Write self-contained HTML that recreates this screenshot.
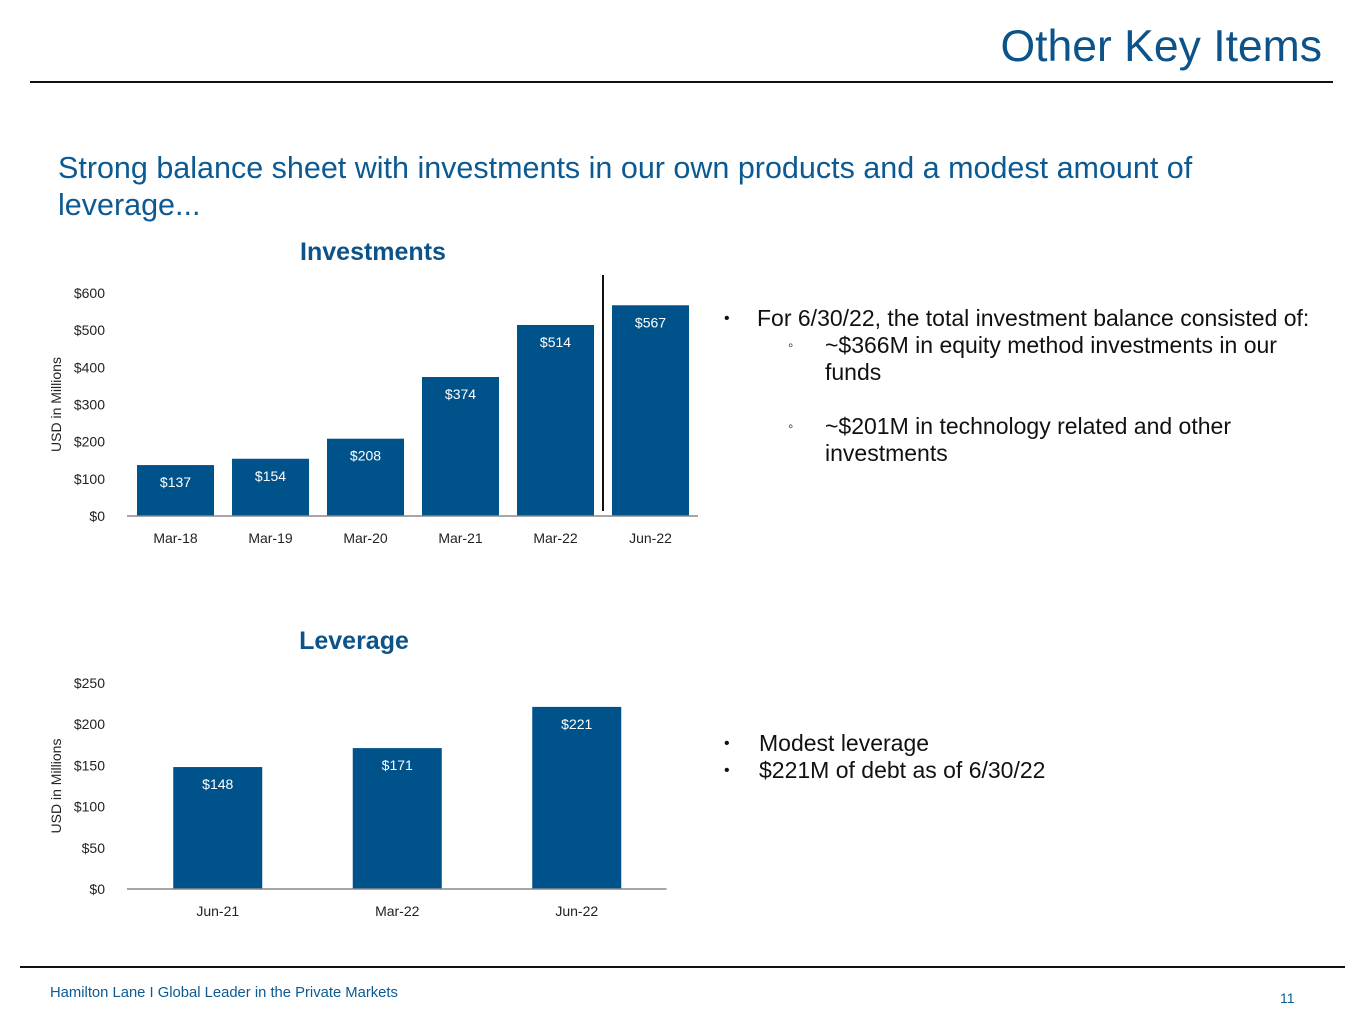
<!DOCTYPE html>
<html><head><meta charset="utf-8"><style>
body{margin:0;width:1365px;height:1024px;background:#fff;font-family:"Liberation Sans",sans-serif;position:relative;overflow:hidden}
.abs{position:absolute}
.title{right:43px;top:22px;font-size:44.5px;color:#0b5388}
.sub{left:58px;top:150px;font-size:30.5px;line-height:37px;color:#0b5a93;width:1250px}
.bul{font-size:23px;color:#111}
svg text{font-family:"Liberation Sans",sans-serif}
</style></head><body>
<div class="abs title">Other Key Items</div>
<div class="abs" style="left:30px;top:81px;width:1303px;height:2px;background:#111"></div>
<div class="abs sub">Strong balance sheet with investments in our own products and a modest amount of<br>leverage...</div>

<svg class="abs" style="left:0;top:0" width="1365" height="1024">
<g id="inv"></g>
<g id="lev"></g>
</svg>

<div class="abs bul" style="left:724px;top:305px;width:620px;line-height:27px">
<div style="position:relative;padding-left:33px"><span style="position:absolute;left:0;font-size:16px">•</span>For 6/30/22, the total investment balance consisted of:</div>
<div style="position:relative;margin-left:101px;width:470px"><span style="position:absolute;left:-37px;font-size:15px">◦</span>~$366M in equity method investments in our funds</div>
<div style="height:27px"></div>
<div style="position:relative;margin-left:101px;width:430px"><span style="position:absolute;left:-37px;font-size:15px">◦</span>~$201M in technology related and other investments</div>
</div>
<div class="abs bul" style="left:724px;top:730px;line-height:27px">
<div style="position:relative;padding-left:35px"><span style="position:absolute;left:0;font-size:16px">•</span>Modest leverage</div>
<div style="position:relative;padding-left:35px"><span style="position:absolute;left:0;font-size:16px">•</span>$221M of debt as of 6/30/22</div>
</div>

<div class="abs" style="left:20px;top:966px;width:1325px;height:2px;background:#111"></div>
<div class="abs" style="left:50px;top:985px;font-size:14.8px;color:#0b5a93">Hamilton Lane I Global Leader in the Private Markets</div>
<div class="abs" style="left:1280px;top:990px;font-size:14px;color:#0b5a93">11</div>

<script>
const invCategories=["Mar-18","Mar-19","Mar-20","Mar-21","Mar-22","Jun-22"];
const invValues=[137,154,208,374,514,567];
const invTicks=[0,100,200,300,400,500,600];
const levCategories=["Jun-21","Mar-22","Jun-22"];
const levValues=[148,171,221];
const levTicks=[0,50,100,150,200,250];
const NS="http://www.w3.org/2000/svg";
function mk(p,t,a,txt){const e=document.createElementNS(NS,t);for(const k in a)e.setAttribute(k,a[k]);if(txt!==undefined)e.textContent=txt;p.appendChild(e);return e;}
function chart(g,cfg,cats,vals,ticks){
  const max=ticks[ticks.length-1];
  const y=v=>cfg.y0-(v/max)*(cfg.y0-cfg.yTop);
  const x=i=>cfg.x0+cfg.step*(i+0.5);
  const t=mk(g,"text",{x:cfg.titleX,y:cfg.titleY,"font-size":25,"font-weight":"bold",fill:"#0b5388","text-anchor":"middle"},cfg.title);
  
  
  ticks.forEach(v=>{const l=mk(g,"text",{x:105,y:y(v)+5,"font-size":14,fill:"#222","text-anchor":"end"},"$"+v);
    
    });
  const at=mk(g,"text",{transform:`translate(61,${(cfg.y0+cfg.yTop)/2}) rotate(-90)`,"font-size":14,fill:"#222","text-anchor":"middle"},"USD in Millions");
  
  
  vals.forEach((v,i)=>{
    const r=mk(g,"rect",{x:x(i)-cfg.bw/2,y:y(v),width:cfg.bw,height:cfg.y0-y(v),fill:"#00538a"});
    
    
    const vl=mk(g,"text",{x:x(i),y:y(v)+22,"font-size":14,fill:"#fff","text-anchor":"middle"},"$"+v);
    
    
    const cl=mk(g,"text",{x:x(i),y:cfg.y0+27,"font-size":14,fill:"#222","text-anchor":"middle"},cats[i]);
    
    
  });
  const ax=mk(g,"line",{x1:cfg.x0-1,x2:cfg.x0+cfg.step*cats.length,y1:cfg.y0,y2:cfg.y0,stroke:"#888","stroke-width":1.5});
  
  
}
chart(document.getElementById("inv"),{x0:128,step:95,bw:77,y0:516,yTop:293,title:"Investments",titleX:373,titleY:260},invCategories,invValues,invTicks);
chart(document.getElementById("lev"),{x0:128,step:179.5,bw:89,y0:889,yTop:683,title:"Leverage",titleX:354,titleY:649},levCategories,levValues,levTicks);
const sep=mk(document.getElementById("inv"),"line",{x1:603,x2:603,y1:275,y2:511,stroke:"#111","stroke-width":2});


</script>
</body></html>
